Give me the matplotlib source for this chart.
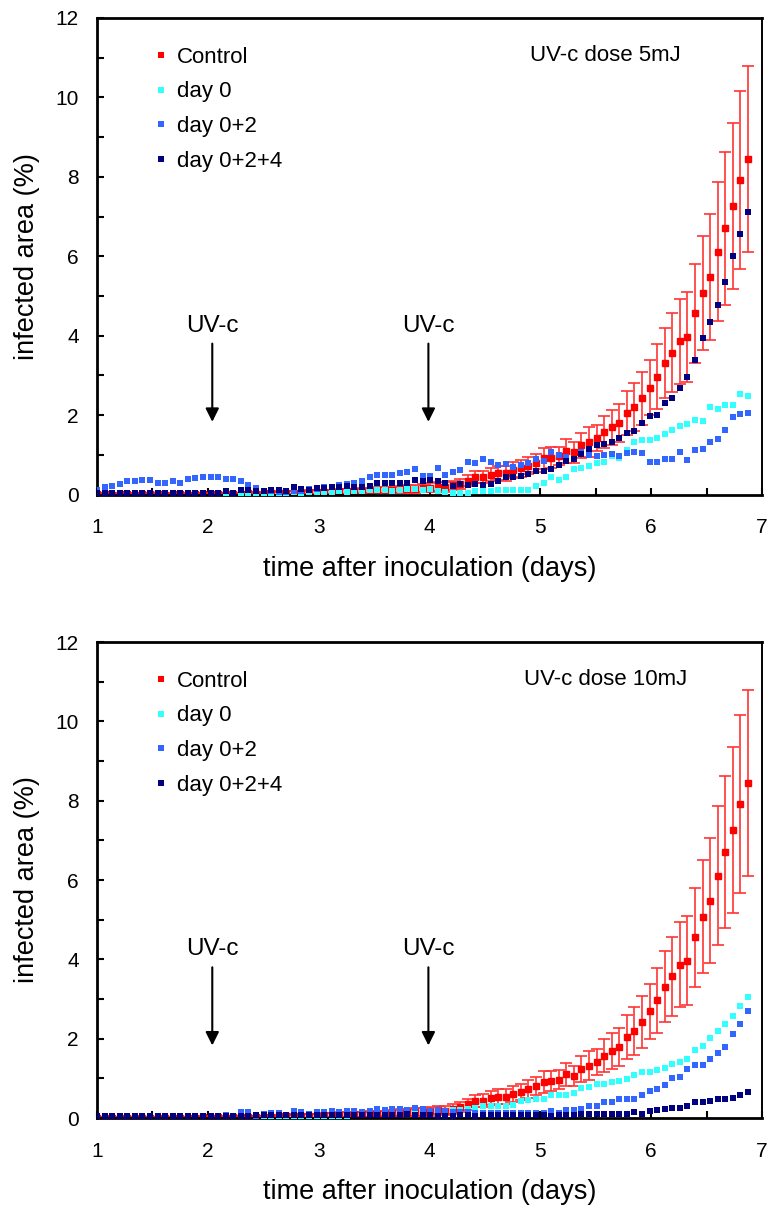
import numpy as np
import matplotlib
matplotlib.use("Agg")
import matplotlib.pyplot as plt
from matplotlib.ticker import MultipleLocator
from matplotlib.lines import Line2D

plt.rcParams['font.family'] = ['Liberation Sans', 'DejaVu Sans']

# sampling times (days after inoculation), one image every ~1.64 h
TIME = np.round(1 + np.arange(87) * 0.0683, 3)

# control is shared by both panels
CONTROL = [
    0.01, 0.01, 0.0, 0.01, 0.01, 0.0, 0.01, 0.01, 0.01, 0.0,
    0.01, 0.01, 0.0, 0.01, 0.02, 0.01, 0.02, 0.01, 0.02, 0.02,
    0.03, 0.02, 0.03, 0.03, 0.04, 0.04, 0.05, 0.05, 0.06, 0.06,
    0.07, 0.07, 0.08, 0.08, 0.09, 0.09, 0.10, 0.11, 0.11, 0.12,
    0.13, 0.14, 0.15, 0.16, 0.17, 0.20, 0.19, 0.23, 0.27, 0.35,
    0.44, 0.44, 0.50, 0.54, 0.54, 0.61, 0.66, 0.73, 0.80, 0.91,
    0.93, 0.97, 1.10, 1.06, 1.24, 1.32, 1.42, 1.57, 1.69, 1.80,
    2.05, 2.20, 2.42, 2.69, 2.97, 3.31, 3.57, 3.86, 3.97, 4.56,
    5.08, 5.48, 6.11, 6.70, 7.26, 7.92, 8.44,
]
CONTROL_ERR = [
    0.02, 0.02, 0.02, 0.02, 0.02, 0.02, 0.02, 0.02, 0.02, 0.02,
    0.02, 0.02, 0.02, 0.02, 0.03, 0.02, 0.03, 0.02, 0.03, 0.03,
    0.03, 0.03, 0.03, 0.03, 0.04, 0.04, 0.04, 0.04, 0.05, 0.05,
    0.05, 0.05, 0.06, 0.06, 0.06, 0.07, 0.07, 0.07, 0.08, 0.08,
    0.09, 0.09, 0.10, 0.10, 0.11, 0.11, 0.12, 0.12, 0.13, 0.14,
    0.15, 0.16, 0.17, 0.18, 0.19, 0.20, 0.21, 0.22, 0.23, 0.27,
    0.26, 0.23, 0.30, 0.26, 0.32, 0.37, 0.33, 0.41, 0.45, 0.48,
    0.55, 0.61, 0.66, 0.69, 0.82, 0.89, 0.99, 1.07, 1.13, 1.25,
    1.43, 1.58, 1.75, 1.92, 2.09, 2.24, 2.34,
]

# UV-c dose 5mJ
DAY0_5 = [
    0.0, 0.0, 0.01, 0.0, 0.0, 0.01, 0.0, 0.01, 0.0, 0.0,
    0.0, 0.01, 0.0, 0.0, 0.01, 0.0, 0.0, 0.02, 0.0, 0.03,
    0.02, 0.04, 0.03, 0.04, 0.05, 0.04, 0.06, 0.05, 0.06, 0.07,
    0.06, 0.07, 0.08, 0.07, 0.08, 0.09, 0.11, 0.11, 0.12, 0.10,
    0.12, 0.13, 0.13, 0.11, 0.13, 0.10, 0.06, 0.05, 0.05, 0.05,
    0.08, 0.10, 0.09, 0.11, 0.11, 0.11, 0.11, 0.11, 0.22, 0.29,
    0.43, 0.36, 0.43, 0.64, 0.68, 0.72, 0.79, 0.83, 0.96, 0.91,
    1.12, 1.31, 1.37, 1.38, 1.42, 1.53, 1.63, 1.73, 1.78, 1.88,
    1.85, 2.20, 2.15, 2.25, 2.25, 2.53, 2.47,
]
DAY02_5 = [
    0.12, 0.20, 0.21, 0.26, 0.35, 0.35, 0.36, 0.36, 0.30, 0.30,
    0.35, 0.30, 0.38, 0.42, 0.45, 0.45, 0.45, 0.38, 0.38, 0.35,
    0.23, 0.16, 0.10, 0.08, 0.07, 0.06, 0.09, 0.10, 0.13, 0.15,
    0.18, 0.20, 0.23, 0.27, 0.30, 0.34, 0.43, 0.50, 0.48, 0.50,
    0.55, 0.56, 0.65, 0.47, 0.47, 0.66, 0.50, 0.57, 0.61, 0.83,
    0.80, 0.89, 0.83, 0.74, 0.76, 0.69, 0.74, 0.80, 0.89, 0.84,
    1.08, 1.00, 0.95, 0.89, 1.06, 1.00, 0.97, 1.00, 1.01, 0.98,
    1.05, 1.08, 1.05, 0.83, 0.83, 0.89, 0.90, 1.06, 0.88, 1.13,
    1.15, 1.33, 1.41, 1.62, 1.94, 2.02, 2.06,
]
DAY024_5 = [
    0.04, 0.03, 0.05, 0.05, 0.05, 0.05, 0.05, 0.03, 0.03, 0.03,
    0.03, 0.03, 0.05, 0.05, 0.05, 0.05, 0.05, 0.10, 0.05, 0.11,
    0.11, 0.10, 0.10, 0.11, 0.11, 0.10, 0.20, 0.13, 0.11, 0.16,
    0.16, 0.20, 0.18, 0.21, 0.20, 0.18, 0.21, 0.28, 0.28, 0.30,
    0.30, 0.30, 0.36, 0.35, 0.36, 0.34, 0.30, 0.22, 0.27, 0.24,
    0.27, 0.25, 0.27, 0.35, 0.44, 0.44, 0.47, 0.52, 0.58, 0.58,
    0.65, 0.75, 0.84, 0.89, 1.02, 1.15, 1.25, 1.27, 1.32, 1.42,
    1.55, 1.61, 1.80, 1.98, 2.01, 2.31, 2.42, 2.69, 2.97, 3.38,
    3.94, 4.35, 4.78, 5.36, 6.00, 6.55, 7.12,
]

# UV-c dose 10mJ
DAY0_10 = [
    0.0, 0.01, 0.0, 0.01, 0.0, 0.01, 0.01, 0.0, 0.01, 0.01,
    0.0, 0.01, 0.01, 0.01, 0.02, 0.01, 0.02, 0.02, 0.02, 0.03,
    0.03, 0.02, 0.03, 0.03, 0.04, 0.03, 0.04, 0.04, 0.05, 0.05,
    0.05, 0.06, 0.06, 0.06, 0.07, 0.07, 0.08, 0.08, 0.09, 0.09,
    0.10, 0.10, 0.11, 0.12, 0.12, 0.13, 0.13, 0.20, 0.20, 0.23,
    0.25, 0.30, 0.30, 0.31, 0.31, 0.34, 0.42, 0.45, 0.49, 0.47,
    0.59, 0.59, 0.59, 0.64, 0.75, 0.79, 0.86, 0.86, 0.90, 0.94,
    0.98, 1.08, 1.16, 1.16, 1.20, 1.27, 1.37, 1.42, 1.50, 1.71,
    1.82, 2.01, 2.20, 2.37, 2.56, 2.82, 3.04,
]
DAY02_10 = [
    0.02, 0.0, 0.03, 0.01, 0.02, 0.03, 0.02, 0.01, 0.03, 0.02,
    0.03, 0.04, 0.03, 0.02, 0.03, 0.04, 0.03, 0.08, 0.05, 0.15,
    0.15, 0.06, 0.10, 0.13, 0.13, 0.08, 0.18, 0.14, 0.10, 0.15,
    0.15, 0.17, 0.14, 0.17, 0.17, 0.16, 0.19, 0.24, 0.21, 0.24,
    0.24, 0.20, 0.25, 0.23, 0.18, 0.20, 0.17, 0.15, 0.15, 0.14,
    0.12, 0.12, 0.12, 0.12, 0.12, 0.13, 0.12, 0.13, 0.13, 0.13,
    0.17, 0.13, 0.20, 0.20, 0.24, 0.31, 0.31, 0.40, 0.40, 0.47,
    0.47, 0.47, 0.59, 0.67, 0.72, 0.84, 1.01, 1.04, 1.23, 1.33,
    1.33, 1.48, 1.63, 1.78, 2.11, 2.37, 2.70,
]
DAY024_10 = [
    0.05, 0.06, 0.06, 0.05, 0.06, 0.06, 0.05, 0.06, 0.06, 0.05,
    0.06, 0.06, 0.05, 0.06, 0.06, 0.06, 0.05, 0.06, 0.06, 0.06,
    0.06, 0.08, 0.07, 0.07, 0.07, 0.08, 0.07, 0.07, 0.07, 0.08,
    0.08, 0.07, 0.08, 0.08, 0.08, 0.08, 0.08, 0.08, 0.08, 0.08,
    0.08, 0.09, 0.08, 0.08, 0.08, 0.06, 0.06, 0.06, 0.07, 0.07,
    0.06, 0.07, 0.07, 0.07, 0.07, 0.07, 0.07, 0.07, 0.07, 0.07,
    0.06, 0.08, 0.08, 0.08, 0.09, 0.11, 0.09, 0.11, 0.11, 0.11,
    0.11, 0.16, 0.11, 0.17, 0.21, 0.24, 0.25, 0.25, 0.31, 0.40,
    0.40, 0.42, 0.47, 0.48, 0.50, 0.57, 0.65,
]

LABELS = ["Control", "day 0", "day 0+2", "day 0+2+4"]
COLORS = ["#ff0000", "#33ffff", "#3366ff", "#000080"]
UV_DAYS = [2.04, 3.99]


def draw_panel(ax, day0, day02, day024, dose_text):
    ax.errorbar(TIME, CONTROL, yerr=CONTROL_ERR, fmt='s', color=COLORS[0],
                mec=COLORS[0], ecolor='#ff3333', elinewidth=1.2, capsize=4,
                capthick=1.2, ms=4.6, zorder=2)
    ax.plot(TIME, day0, 's', color=COLORS[1], ms=4.8, mew=0, zorder=3)
    ax.plot(TIME, day02, 's', color=COLORS[2], ms=4.8, mew=0, zorder=4)
    ax.plot(TIME, day024, 's', color=COLORS[3], ms=4.8, mew=0, zorder=5)

    ax.set_xlim(1, 7)
    ax.set_ylim(0, 12)
    ax.xaxis.set_major_locator(MultipleLocator(1))
    ax.xaxis.set_minor_locator(MultipleLocator(0.5))
    ax.yaxis.set_major_locator(MultipleLocator(2))
    ax.yaxis.set_minor_locator(MultipleLocator(1))
    ax.tick_params(which='both', direction='in', length=5, width=1.5,
                   top=False, right=False)
    ax.tick_params(axis='x', labelsize=15, pad=17)
    ax.tick_params(axis='y', labelsize=15, pad=13)
    for side in ['left', 'bottom', 'top']:
        ax.spines[side].set_linewidth(2)
    ax.spines['right'].set_linewidth(1.4)

    ax.set_xlabel("time after inoculation (days)", fontsize=19.5)
    ax.set_ylabel("infected area (%)", fontsize=19.5)
    ax.xaxis.set_label_coords(0.5, -0.128)
    ax.yaxis.set_label_coords(-0.086, 0.5)

    handles = [Line2D([], [], ls='', marker='s', color=c, ms=4, mew=0) for c in COLORS]
    ax.legend(handles, LABELS, loc='upper left', bbox_to_anchor=(0.0857, 0.94),
              frameon=False, fontsize=16, borderpad=0, borderaxespad=0,
              handlelength=0.6, handletextpad=0.45, labelspacing=0.62)

    ax.text(0.765, 0.922, dose_text, transform=ax.transAxes, fontsize=16,
            ha='center', va='center')

    for d in UV_DAYS:
        ax.annotate("", xy=(d, 1.83), xytext=(d, 3.8),
                    arrowprops=dict(arrowstyle='-|>', color='black', lw=1.5,
                                    mutation_scale=20, shrinkA=0, shrinkB=0))
        ax.text(d, 4.25, "UV-c", fontsize=17.5, ha='center', va='center')


fig = plt.figure(figsize=(7.7, 12.07), dpi=100)
ax1 = fig.add_axes([0.126, 0.5903, 0.8636, 0.3948])
ax2 = fig.add_axes([0.126, 0.0737, 0.8636, 0.3944])

draw_panel(ax1, DAY0_5, DAY02_5, DAY024_5, "UV-c dose 5mJ")
draw_panel(ax2, DAY0_10, DAY02_10, DAY024_10, "UV-c dose 10mJ")

fig.savefig("out.png", dpi=100)
